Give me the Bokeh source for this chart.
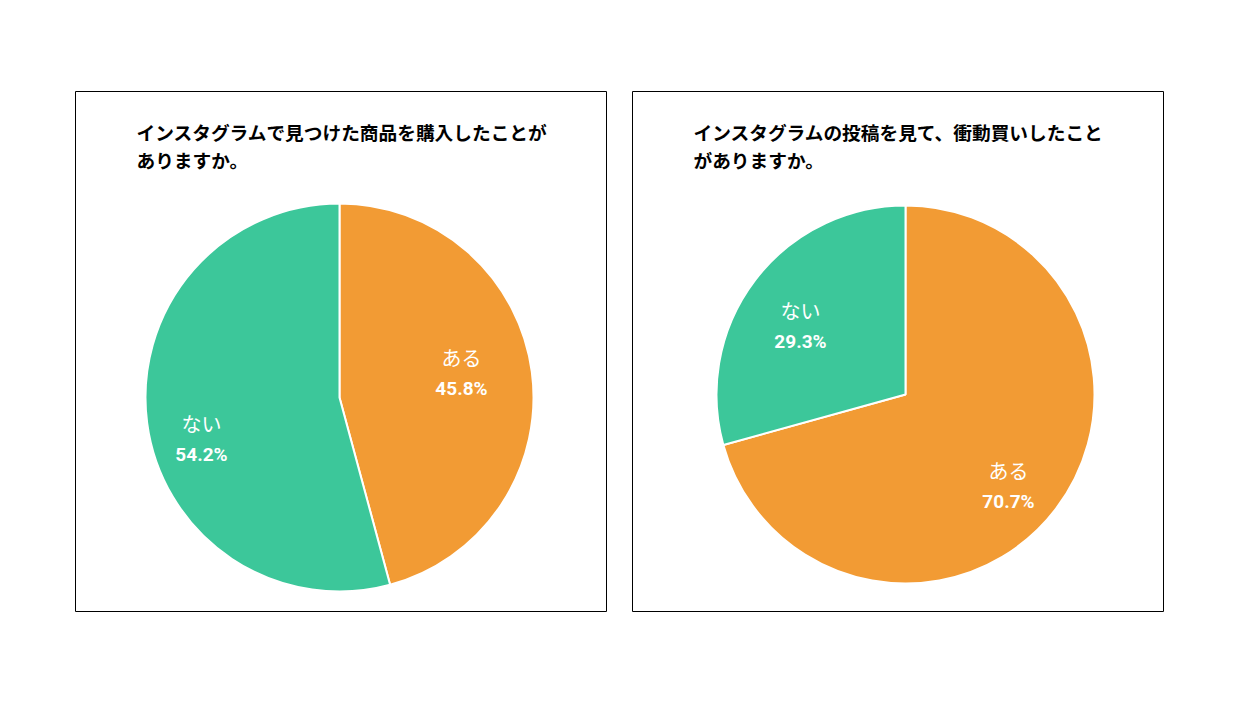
import math
import pandas as pd
from bokeh.plotting import figure
from bokeh.layouts import row, column
from bokeh.models import Spacer, Range1d, ColumnDataSource
from bokeh.core.properties import value
from bokeh.embed import file_html
from bokeh.resources import INLINE

# ---- data ----
categories = ["ある", "ない"]
purchase_values = [45.8, 54.2]
impulse_values = [70.7, 29.3]
title_left = ["インスタグラムで見つけた商品を購入したことが", "ありますか。"]
title_right = ["インスタグラムの投稿を見て、衝動買いしたこと", "がありますか。"]
colors = ["#F29B34", "#3CC79A"]

W, H = 532, 521
JP = value("Noto Sans CJK JP")
NUM = value("Roboto")


def make_pie(vals, title_lines, center, radius, label_pos):
    p = figure(width=W, height=H, output_backend="svg", toolbar_location=None,
               x_range=Range1d(0, W), y_range=Range1d(0, H), min_border=0)
    p.axis.visible = False
    p.grid.visible = False
    p.outline_line_color = "black"
    p.outline_line_width = 1
    p.background_fill_color = "white"
    p.border_fill_color = "white"

    total = sum(vals)
    cum = 0.0
    starts, ends = [], []
    for v in vals:
        starts.append(math.pi / 2 - 2 * math.pi * cum / total)
        cum += v
        ends.append(math.pi / 2 - 2 * math.pi * cum / total)
    df = pd.DataFrame(dict(cat=categories, val=vals, start=starts, end=ends, color=colors))
    src = ColumnDataSource(df)
    p.wedge(x=center[0], y=center[1], radius=radius, start_angle="start", end_angle="end",
            direction="clock", fill_color="color", line_color="white", line_width=2, source=src)

    # titles
    p.text(x=[title_pos_x] * len(title_lines), y=[H - 40 - 28 * i for i in range(len(title_lines))],
           text=title_lines, text_font=JP, text_font_size="18.7px", text_font_style="bold",
           text_color="black", text_align="left", text_baseline="middle")

    # labels
    lx = [label_pos[c][0] for c in categories]
    ly = [label_pos[c][1] for c in categories]
    p.text(x=lx, y=ly, text=categories, text_font=JP, text_font_size="20px",
           text_color="white", text_align="center", text_baseline="middle")
    p.text(x=lx, y=[y - 31 for y in ly], text=[f"{v:.1f}%" for v in vals], text_font=NUM,
           text_font_size="19px", text_font_style="bold", text_color="white",
           text_align="center", text_baseline="middle")
    return p


title_pos_x = 61
p1 = make_pie(purchase_values, title_left, (264, 215), 194,
              {"ある": (386, 255), "ない": (126, 189)})
p2 = make_pie(impulse_values, title_right, (273, 218), 189,
              {"ある": (376, 142), "ない": (168, 302)})

layout = column(Spacer(height=91),
                row(Spacer(width=75), p1, Spacer(width=25), p2))

open("out.html", "w").write(file_html(layout, INLINE))
